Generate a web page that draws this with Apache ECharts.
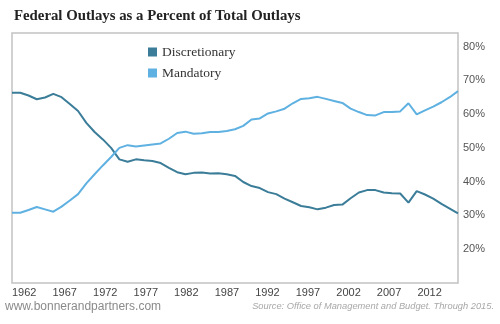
<!DOCTYPE html>
<html>
<head>
<meta charset="utf-8">
<script src="https://cdn.jsdelivr.net/npm/echarts@6/dist/echarts.min.js"></script>
<style>html,body{margin:0;padding:0;background:#fff;}#c{width:500px;height:324px;}</style>
</head>
<body>
<div id="c"></div>
<script>
var years = [];
for (var y = 1961; y <= 2015; y++) years.push(y);

var discretionary = [66.3,66.3,65.5,64.4,64.9,66.0,65.0,63.0,60.9,57.4,54.7,52.5,50.0,46.6,45.9,46.6,46.3,46.1,45.5,44.1,42.8,42.2,42.6,42.7,42.4,42.5,42.2,41.7,39.9,38.7,38.1,36.9,36.3,35.0,33.9,32.8,32.4,31.8,32.3,33.1,33.2,35.1,36.8,37.5,37.5,36.8,36.6,36.5,33.8,37.2,36.2,35.0,33.4,32.0,30.6];
var mandatory = [30.8,30.8,31.6,32.5,31.8,31.1,32.6,34.4,36.3,39.5,42.2,44.8,47.3,50.0,50.8,50.4,50.7,51.0,51.3,52.7,54.4,54.8,54.2,54.3,54.7,54.7,55.0,55.5,56.5,58.4,58.7,60.2,60.8,61.6,63.2,64.5,64.7,65.1,64.5,63.9,63.3,61.6,60.6,59.7,59.6,60.6,60.6,60.8,63.2,59.9,61.1,62.2,63.5,65.0,66.8];

var tickYears = [1962,1967,1972,1977,1982,1987,1992,1997,2002,2007,2012];
var yTicks = [20,30,40,50,60,70,80];

var seriesNames = ['Discretionary','Mandatory'];
var colors = ['#3b7d99','#5fb1e1'];

function pairs(vals){ return years.map(function(yr,i){ return [yr, vals[i]]; }); }

var chart = echarts.init(document.getElementById('c'), null, {renderer:'canvas'});
chart.setOption({
  animation: false,
  backgroundColor: '#fff',
  title: {
    text: 'Federal Outlays as a Percent of Total Outlays',
    left: 9, top: 4,
    textStyle: {fontFamily: 'Liberation Serif', fontWeight: 'bold', fontSize: 14.8, color: '#222'}
  },
  legend: {
    orient: 'vertical',
    left: 143, top: 40,
    icon: 'rect', itemWidth: 9, itemHeight: 9, itemGap: 7,
    data: seriesNames,
    textStyle: {fontFamily: 'Liberation Serif', fontSize: 13.5, color: '#333', lineHeight: 14}
  },
  grid: {left: 12, right: 42, top: 33, bottom: 41, show: true, borderColor: '#c2c2c2', borderWidth: 1.5},
  xAxis: [{
    type: 'value', min: 1961, max: 2015, show: false
  },{
    type: 'value', min: 1960.5, max: 2015.5, position: 'bottom',
    axisLine: {show: false}, axisTick: {show: false}, splitLine: {show: false},
    axisLabel: {customValues: tickYears, margin: 4, fontFamily: 'Liberation Sans', fontSize: 11, color: '#444',
      formatter: function(v){ return String(v); }}
  }],
  yAxis: {
    type: 'value', position: 'right', min: 10, max: 84, interval: 10,
    axisLine: {show: false}, axisTick: {show: false}, splitLine: {show: false},
    axisLabel: {customValues: yTicks, margin: 5, fontFamily: 'Liberation Sans', fontSize: 11, color: '#555',
      formatter: function(v){ return v + '%'; }}
  },
  series: [{
    name: seriesNames[0], type: 'line', xAxisIndex: 0, data: pairs(discretionary),
    showSymbol: false, lineStyle: {color: colors[0], width: 2}, itemStyle: {color: colors[0]}
  },{
    name: seriesNames[1], type: 'line', xAxisIndex: 0, data: pairs(mandatory),
    showSymbol: false, lineStyle: {color: colors[1], width: 2}, itemStyle: {color: colors[1]}
  }],
  graphic: [{
    type: 'text', left: 5, top: 301,
    style: {text: 'www.bonnerandpartners.com', fontFamily: 'Liberation Sans', fontSize: 12, fill: '#8a8a8a'}
  },{
    type: 'text', right: 6, top: 302,
    style: {text: 'Source: Office of Management and Budget. Through 2015.', fontFamily: 'Liberation Sans', fontStyle: 'italic', fontSize: 9.3, fill: '#a8a8a8'}
  }]
});
</script>
</body>
</html>
